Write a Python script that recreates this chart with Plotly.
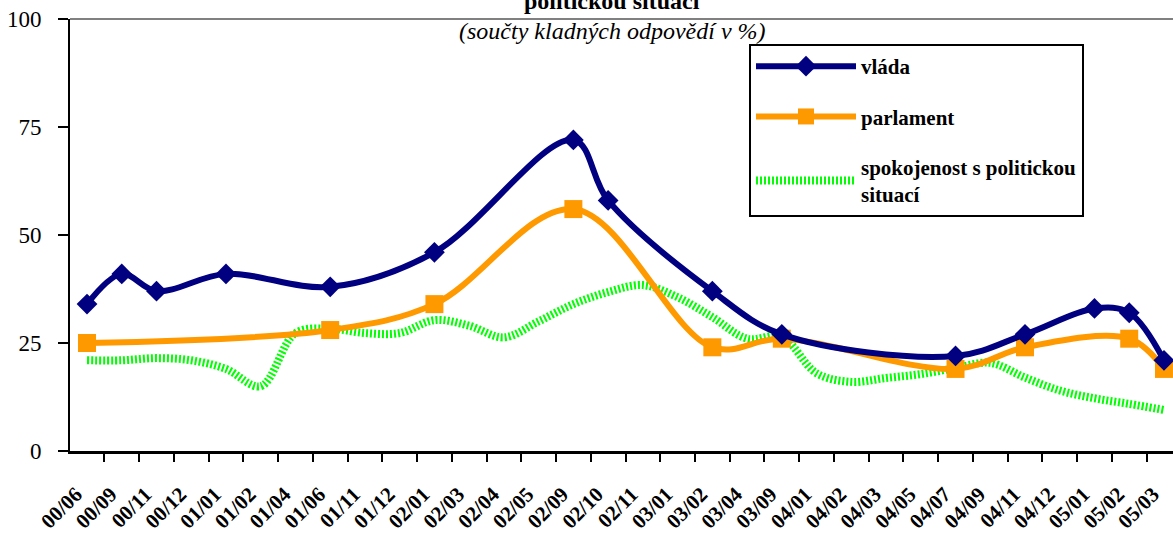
import plotly.graph_objects as go

categories = ["00/06", "00/09", "00/11", "00/12", "01/01", "01/02", "01/04", "01/06",
              "01/11", "01/12", "02/01", "02/03", "02/04", "02/05", "02/09", "02/10",
              "02/11", "03/01", "03/02", "03/04", "03/09", "04/01", "04/02", "04/03",
              "04/05", "04/07", "04/09", "04/11", "04/12", "05/01", "05/02", "05/03"]

vlada = [34, 41, 37, None, 41, None, None, 38,
         None, None, 46, None, None, None, 72, 58,
         None, None, 37, None, 27, None, None, None,
         None, 22, None, 27, None, 33, 32, 21]

parlament = [25, None, None, None, None, None, None, 28,
             None, None, 34, None, None, None, 56, None,
             None, None, 24, None, 26, None, None, None,
             None, 19, None, 24, None, None, 26, 19]

spokojenost = [21, 21, 21.5, 21, 19, 15, 27.3, 28.3,
               27.3, 27.3, 30.3, 29, 26.3, 30, 34, 36.8,
               38.4, 35.6, 31, 26, 26.4, 18, 16, 16.9,
               17.8, 19.2, 20.4, 17, 14, 12.2, 10.9, 9.5]

y_ticks = [0, 25, 50, 75, 100]

FONT = "Liberation Serif"

fig = go.Figure()

fig.add_trace(go.Scatter(
    x=categories, y=spokojenost, name="spokojenost s politickou<br>situací",
    mode="lines", line=dict(color="#00FF00", width=8, shape="spline", smoothing=1, dash="2px,2px"),
    legendgroup="c", legendrank=3,
))
fig.add_trace(go.Scatter(
    x=categories, y=parlament, name="parlament", connectgaps=True,
    mode="lines+markers", line=dict(color="#FF9900", width=6, shape="spline", smoothing=1),
    marker=dict(symbol="square", size=18, color="#FF9900"),
    legendgroup="b", legendrank=2,
))
fig.add_trace(go.Scatter(
    x=categories, y=vlada, name="vláda", connectgaps=True,
    mode="lines+markers", line=dict(color="#000080", width=6, shape="spline", smoothing=1),
    marker=dict(symbol="diamond", size=16, color="#000080"),
    legendgroup="a", legendrank=1,
))

fig.update_layout(
    width=1173, height=537,
    margin=dict(l=70, r=0, t=19, b=86, autoexpand=False),
    paper_bgcolor="white", plot_bgcolor="white",
    font=dict(family=FONT, color="black"),
    showlegend=True,
    legend=dict(
        x=(749 - 70) / 1103, y=(451 - 44) / 432, xanchor="left", yanchor="top",
        bgcolor="white", bordercolor="black", borderwidth=2,
        font=dict(family=FONT, size=21, weight="bold", color="black"),
        traceorder="grouped", tracegroupgap=20, itemwidth=100,
    ),
    xaxis=dict(
        type="category", categoryorder="array", categoryarray=categories,
        range=[-0.49, 31.26], automargin=False,
        showgrid=False, zeroline=False,
        showline=True, linecolor="black", linewidth=2.5,
        ticks="outside", tickson="boundaries", ticklen=8, tickwidth=2, tickcolor="black",
        tickangle=-45, tickfont=dict(family=FONT, size=21, weight="bold", color="black"),
        ticklabelstandoff=20, ticklabelshift=-11,
    ),
    yaxis=dict(
        range=[0, 100], tickvals=y_ticks, automargin=False,
        showgrid=False, zeroline=False,
        showline=True, linecolor="black", linewidth=2,
        ticks="outside", ticklen=10, tickwidth=2, tickcolor="black",
        tickfont=dict(family=FONT, size=23, color="black"),
        ticklabelstandoff=12,
    ),
    shapes=[dict(type="line", xref="paper", yref="paper", x0=0, x1=1, y0=1, y1=1,
                 line=dict(color="#808080", width=2))],
    annotations=[
        dict(text="<b>politickou situací</b>", xref="paper", yref="paper",
             x=(612 - 70) / 1103, y=1 + (19 - 16) / 432, xanchor="center", yanchor="bottom",
             showarrow=False, font=dict(family=FONT, size=24, color="black")),
        dict(text="<i>(součty kladných odpovědí v %)</i>", xref="paper", yref="paper",
             x=(612 - 70) / 1103, y=1 + 3 / 432, xanchor="center", yanchor="top",
             showarrow=False, font=dict(family=FONT, size=24, color="black")),
    ],
)

fig.write_html("out.html", config={"displayModeBar": False},
               post_script="document.body.style.margin='0';")
